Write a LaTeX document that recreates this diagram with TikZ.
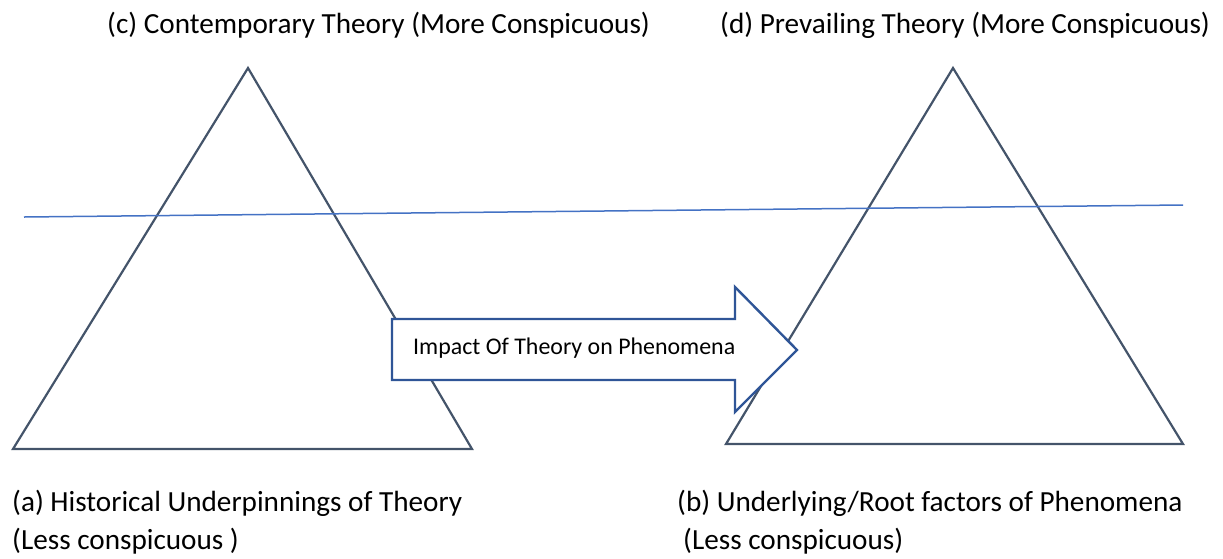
\documentclass[tikz,border=0pt]{standalone}
\usepackage{fontspec}
\setmainfont{Carlito}
\definecolor{triline}{HTML}{44546A}
\definecolor{arrline}{HTML}{2F5597}
\definecolor{hline}{HTML}{4472C4}
\begin{document}
\begin{tikzpicture}[x=1pt,y=-1pt,
  tri/.style={draw=triline,line width=2.2pt,line join=miter},
  lbl/.style={anchor=west,inner sep=0pt,font=\fontsize{29.2}{33}\selectfont},
  arr/.style={draw=arrline,line width=2.4pt,fill=white}]
\useasboundingbox (0,0) rectangle (1223,558);
% triangles
\coordinate (LA) at (248,68);
\coordinate (LL) at (13,449);
\coordinate (LR) at (472,449);
\coordinate (RA) at (953,68);
\coordinate (RL) at (726,444);
\coordinate (RR) at (1183,444);
\draw[tri] (LA) -- (LL) -- (LR) -- cycle;
\draw[tri] (RA) -- (RL) -- (RR) -- cycle;
% horizontal line
\coordinate (H1) at (24,217);
\coordinate (H2) at (1183,205);
\draw[draw=hline,line width=1.5pt] (H1) -- (H2);
% arrow
\draw[arr] (392,319) -- (735,319) -- (735,287) -- (797,350) -- (735,412) -- (735,380) -- (392,380) -- cycle;
\node[anchor=west,inner sep=0pt,font=\fontsize{23.9}{28}\selectfont] (imp) at (413,348) {Impact Of Theory on Phenomena};
% labels
\node[lbl] (c) at (107,25) {(c) Contemporary Theory (More Conspicuous)};
\node[lbl] (d) at (720,25) {(d) Prevailing Theory (More Conspicuous)};
\node[lbl] (a1) at (12,503) {(a) Historical Underpinnings of Theory};
\node[lbl] (a2) at (12,541) {(Less conspicuous )};
\node[lbl] (b1) at (677,503) {(b) Underlying/Root factors of Phenomena};
\node[lbl] (b2) at (683,541) {(Less conspicuous)};
\end{tikzpicture}
\end{document}
